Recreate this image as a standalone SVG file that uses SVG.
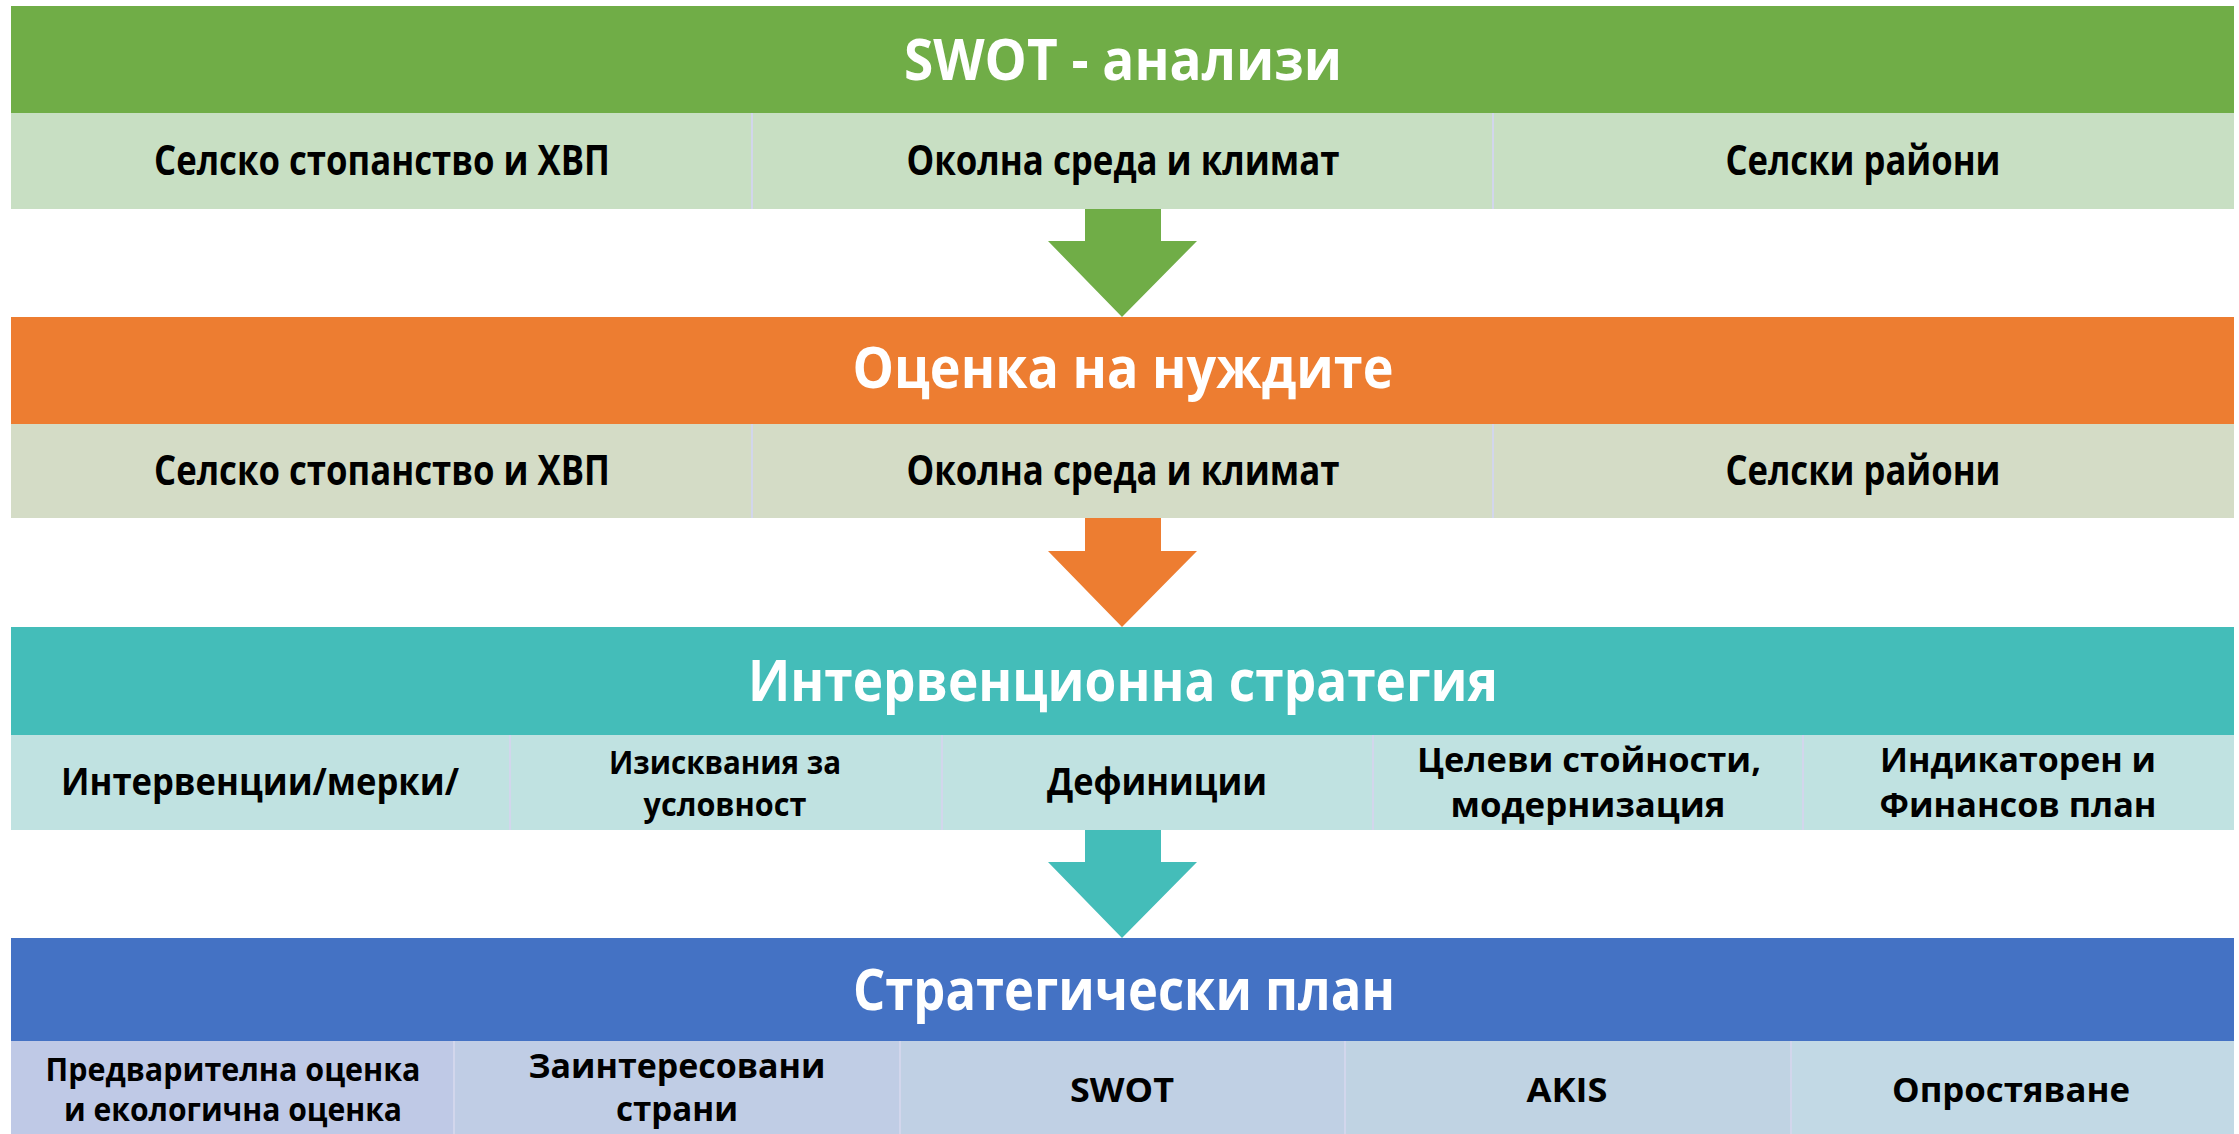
<svg xmlns="http://www.w3.org/2000/svg" width="2239" height="1134" viewBox="0 0 2239 1134">
<style>
.title{font-family:"Open Sans","Noto Sans",sans-serif;font-weight:700;font-size:58px;fill:#ffffff;text-anchor:middle}
.cell{font-family:"Open Sans","Noto Sans",sans-serif;font-weight:700;fill:#000000;text-anchor:middle}
.c41{font-size:41px}
.c38{font-size:38px}
.c34{font-size:34px}
.c32{font-size:32px}
.div{stroke:#D2D6EC;stroke-width:2}
</style>
<rect width="2239" height="1134" fill="#ffffff"/>

<g id="swot">
  <rect x="11" y="6" width="2223" height="107" fill="#70AD47"/>
  <text class="title" x="1123" y="80" textLength="438" lengthAdjust="spacingAndGlyphs">SWOT - анализи</text>
</g>
<g id="swot-cells">
  <rect x="11" y="113" width="2223" height="96" fill="#C8DFC3"/>
  <line class="div" x1="752" y1="113" x2="752" y2="209"/>
  <line class="div" x1="1493" y1="113" x2="1493" y2="209"/>
  <text class="cell c41" x="382" y="175" textLength="456" lengthAdjust="spacingAndGlyphs">Селско стопанство и ХВП</text>
  <text class="cell c41" x="1123" y="175" textLength="433" lengthAdjust="spacingAndGlyphs">Околна среда и климат</text>
  <text class="cell c41" x="1863" y="175" textLength="275" lengthAdjust="spacingAndGlyphs">Селски райони</text>
</g>

<g id="needs">
  <rect x="11" y="317" width="2223" height="107" fill="#ED7D31"/>
  <text class="title" x="1123" y="388" textLength="541" lengthAdjust="spacingAndGlyphs">Оценка на нуждите</text>
</g>
<g id="needs-cells">
  <rect x="11" y="424" width="2223" height="94" fill="#D4DCC6"/>
  <line class="div" x1="752" y1="424" x2="752" y2="518"/>
  <line class="div" x1="1493" y1="424" x2="1493" y2="518"/>
  <text class="cell c41" x="382" y="485" textLength="456" lengthAdjust="spacingAndGlyphs">Селско стопанство и ХВП</text>
  <text class="cell c41" x="1123" y="485" textLength="433" lengthAdjust="spacingAndGlyphs">Околна среда и климат</text>
  <text class="cell c41" x="1863" y="485" textLength="275" lengthAdjust="spacingAndGlyphs">Селски райони</text>
</g>

<g id="strategy">
  <rect x="11" y="627" width="2223" height="108" fill="#44BDB9"/>
  <text class="title" x="1123" y="701" textLength="750" lengthAdjust="spacingAndGlyphs">Интервенционна стратегия</text>
</g>
<g id="strategy-cells">
  <rect x="11" y="735" width="2223" height="95" fill="#C0E2E1"/>
  <line class="div" x1="510" y1="735" x2="510" y2="830"/>
  <line class="div" x1="942" y1="735" x2="942" y2="830"/>
  <line class="div" x1="1373" y1="735" x2="1373" y2="830"/>
  <line class="div" x1="1803" y1="735" x2="1803" y2="830"/>
  <text class="cell c38" x="260" y="795" textLength="398" lengthAdjust="spacingAndGlyphs">Интервенции/мерки/</text>
  <text class="cell c32"><tspan x="725" y="774" textLength="232" lengthAdjust="spacingAndGlyphs">Изисквания за</tspan><tspan x="725" y="816" textLength="163" lengthAdjust="spacingAndGlyphs">условност</tspan></text>
  <text class="cell c38" x="1157" y="795" textLength="220" lengthAdjust="spacingAndGlyphs">Дефиниции</text>
  <text class="cell c34"><tspan x="1589" y="772" textLength="344" lengthAdjust="spacingAndGlyphs">Целеви стойности,</tspan><tspan x="1588" y="817" textLength="275" lengthAdjust="spacingAndGlyphs">модернизация</tspan></text>
  <text class="cell c34"><tspan x="2018" y="772" textLength="276" lengthAdjust="spacingAndGlyphs">Индикаторен и</tspan><tspan x="2018" y="817" textLength="277" lengthAdjust="spacingAndGlyphs">Финансов план</tspan></text>
</g>

<g id="plan">
  <rect x="11" y="938" width="2223" height="103" fill="#4472C4"/>
  <text class="title" x="1124" y="1010" textLength="542" lengthAdjust="spacingAndGlyphs">Стратегически план</text>
</g>
<g id="plan-cells">
  <rect x="11" y="1041" width="443" height="93" fill="#BFC9E6"/>
  <rect x="454" y="1041" width="446" height="93" fill="#C0CDE5"/>
  <rect x="900" y="1041" width="445" height="93" fill="#C0D0E4"/>
  <rect x="1345" y="1041" width="446" height="93" fill="#C0D3E3"/>
  <rect x="1791" y="1041" width="443" height="93" fill="#C2D9E5"/>
  <line class="div" x1="454" y1="1041" x2="454" y2="1134"/>
  <line class="div" x1="900" y1="1041" x2="900" y2="1134"/>
  <line class="div" x1="1345" y1="1041" x2="1345" y2="1134"/>
  <line class="div" x1="1791" y1="1041" x2="1791" y2="1134"/>
  <text class="cell c32"><tspan x="233" y="1081" textLength="375" lengthAdjust="spacingAndGlyphs">Предварителна оценка</tspan><tspan x="233" y="1121" textLength="338" lengthAdjust="spacingAndGlyphs">и екологична оценка</tspan></text>
  <text class="cell c34"><tspan x="677" y="1078" textLength="297" lengthAdjust="spacingAndGlyphs">Заинтересовани</tspan><tspan x="677" y="1121" textLength="122" lengthAdjust="spacingAndGlyphs">страни</tspan></text>
  <text class="cell c34" x="1122" y="1102" textLength="104" lengthAdjust="spacingAndGlyphs">SWOT</text>
  <text class="cell c34" x="1567" y="1102" textLength="81" lengthAdjust="spacingAndGlyphs">AKIS</text>
  <text class="cell c34" x="2011" y="1102" textLength="238" lengthAdjust="spacingAndGlyphs">Опростяване</text>
</g>

<g id="connectors">
  <polygon points="1085,209 1161,209 1161,241 1197,241 1122,317 1048,241 1085,241" fill="#70AD47"/>
  <polygon points="1085,518 1161,518 1161,551 1197,551 1122,627 1048,551 1085,551" fill="#ED7D31"/>
  <polygon points="1085,830 1161,830 1161,862 1197,862 1122,938 1048,862 1085,862" fill="#44BDB9"/>
</g>
</svg>
